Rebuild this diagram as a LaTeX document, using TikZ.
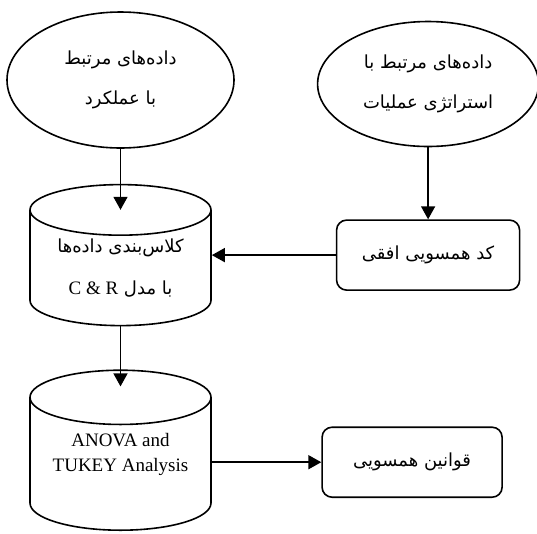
\documentclass[tikz,border=0pt]{standalone}
\usepackage{fontspec}
\setmainfont{Liberation Serif}
\newfontfamily\farsi[Script=Arabic]{DejaVu Sans}
\TeXXeTstate=1
\usetikzlibrary{matrix, arrows.meta, shapes.geometric}

\newcommand{\fatext}[1]{{\farsi\beginR #1\endR}}
\newcommand{\lat}[1]{{\normalfont\fontsize{19}{23}\selectfont #1}}

\begin{document}
\begin{tikzpicture}[x=1pt, y=1pt,
  data/.style={draw, ellipse, anchor=center, line width=1.6pt, inner sep=0pt, align=center, font=\farsi\fontsize{18}{40}\selectfont},
  store/.style={draw, cylinder, anchor=shape center, shape border rotate=90, aspect=0.4, line width=1.6pt, inner sep=0pt, minimum width=181pt, align=center},
  stepbox/.style={draw, anchor=center, rounded corners=10pt, line width=1.6pt, minimum height=70pt, align=center, font=\farsi\fontsize{18}{22}\selectfont},
  link/.style={-{Triangle[length=13pt, width=14pt]}, line width=1.6pt}]
\useasboundingbox (0,0) rectangle (537,-533);
\matrix (m) [matrix of nodes, column sep = 82pt, inner sep = 0pt, anchor = north west] at (6,-11) {
\node[data, minimum width=227pt, minimum height=136pt](e1){\fatext{داده‌های مرتبط}\\\fatext{با عملکرد}}; & \node[data, minimum width=221pt, minimum height=125pt, yshift=-4pt](e2){\fatext{داده‌های مرتبط با}\\\fatext{استراتژی عملیات}}; \\[35pt]
\node[store, minimum height=141pt, font=\farsi\fontsize{18}{42}\selectfont](c1){\fatext{کلاس‌بندی داده‌ها}\\\fatext{با مدل \beginL\lat{C \& R}\endL}}; & \node[stepbox, minimum width=183pt](b1){\fatext{کد همسویی افقی}}; \\[43pt]
\node[store, minimum height=160pt, text depth=24pt, font=\fontsize{19}{25}\selectfont](c2){ANOVA and\\TUKEY Analysis}; & \node[stepbox, minimum width=180pt, xshift=-16pt, yshift=-12pt](b2){\fatext{قوانین همسویی}}; \\
};
\draw [link] (e1.south) -- ([yshift=-26pt]c1.north);
\draw [link] (e2.south) -- (b1.north);
\draw [link] (b1.west) -- (b1.west -| c1.east);
\draw [link] (c1.south) -- ([yshift=-17pt]c2.north);
\draw [link] (c2.east |- b2.west) -- (b2.west);
\end{tikzpicture}
\end{document}
